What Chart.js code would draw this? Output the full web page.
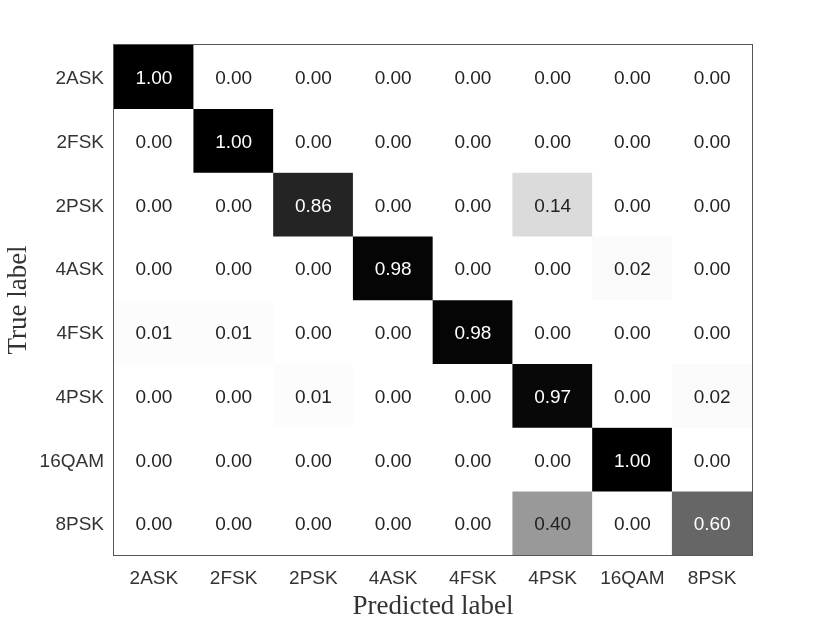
<!DOCTYPE html>
<html>
<head>
<meta charset="utf-8">
<script src="https://cdn.jsdelivr.net/npm/chart.js@4"></script>
<style>
  html, body { margin: 0; padding: 0; background: #fff; }
  #wrap { width: 830px; height: 623px; }
</style>
</head>
<body>
<div id="wrap"><canvas id="cmChart" width="830" height="623"></canvas></div>
<script>
// class labels (rows = true, columns = predicted)
var classes = ["2ASK", "2FSK", "2PSK", "4ASK", "4FSK", "4PSK", "16QAM", "8PSK"];

// normalised confusion matrix, one array per true label
var row2ASK  = [1.00, 0.00, 0.00, 0.00, 0.00, 0.00, 0.00, 0.00];
var row2FSK  = [0.00, 1.00, 0.00, 0.00, 0.00, 0.00, 0.00, 0.00];
var row2PSK  = [0.00, 0.00, 0.86, 0.00, 0.00, 0.14, 0.00, 0.00];
var row4ASK  = [0.00, 0.00, 0.00, 0.98, 0.00, 0.00, 0.02, 0.00];
var row4FSK  = [0.01, 0.01, 0.00, 0.00, 0.98, 0.00, 0.00, 0.00];
var row4PSK  = [0.00, 0.00, 0.01, 0.00, 0.00, 0.97, 0.00, 0.02];
var row16QAM = [0.00, 0.00, 0.00, 0.00, 0.00, 0.00, 1.00, 0.00];
var row8PSK  = [0.00, 0.00, 0.00, 0.00, 0.00, 0.40, 0.00, 0.60];

var matrix = [row2ASK, row2FSK, row2PSK, row4ASK, row4FSK, row4PSK, row16QAM, row8PSK];

function grey(v) {
    var g = Math.round(255 * (1 - v));
    return 'rgb(' + g + ',' + g + ',' + g + ')';
}

// one floating-bar dataset per row, spanning [r, r+1] on the y scale
var datasets = matrix.map(function (row, r) {
    return {
        label: classes[r],
        data: row.map(function () { return [r, r + 1]; }),
        values: row,
        backgroundColor: row.map(grey),
        borderWidth: 0,
        grouped: false,
        barPercentage: 1.0,
        categoryPercentage: 1.0
    };
});

var cellText = {
    id: 'cellText',
    afterDatasetsDraw: function (chart) {
        var ctx = chart.ctx;
        ctx.save();
        ctx.font = '19px "Liberation Sans", Arial, sans-serif';
        ctx.textAlign = 'center';
        ctx.textBaseline = 'middle';
        chart.data.datasets.forEach(function (ds, r) {
            var meta = chart.getDatasetMeta(r);
            meta.data.forEach(function (bar, c) {
                var v = ds.values[c];
                var y = (bar.y + bar.base) / 2;
                ctx.fillStyle = v > 0.5 ? '#ffffff' : '#222222';
                ctx.fillText(v.toFixed(2), bar.x, y + 2);
            });
        });
        var a = chart.chartArea;
        ctx.strokeStyle = '#555555';
        ctx.lineWidth = 1;
        ctx.strokeRect(a.left - 0.5, a.top - 0.5, a.right - a.left + 1, a.bottom - a.top + 1);
        ctx.restore();
    }
};

var CMCHART = document.getElementById('cmChart');

let cmChart = new Chart(CMCHART, {
    type: 'bar',
    data: {
        labels: classes,
        datasets: datasets
    },
    options: {
        responsive: false,
        animation: false,
        layout: { padding: { left: 0, top: 45, right: 78, bottom: 0 } },
        plugins: {
            legend: { display: false },
            tooltip: { enabled: false }
        },
        scales: {
            x: {
                grid: { display: false, drawTicks: false },
                border: { display: false },
                ticks: {
                    color: '#333333',
                    padding: 12,
                    maxRotation: 0,
                    font: { family: '"Liberation Sans", Arial, sans-serif', size: 19 }
                },
                title: {
                    display: true,
                    text: 'Predicted label',
                    color: '#333333',
                    padding: { top: 0, bottom: 0 },
                    font: { family: '"Liberation Serif", "Times New Roman", serif', size: 27 }
                },
                afterFit: function (s) { s.height = 68; }
            },
            y: {
                type: 'linear',
                min: 0,
                max: 8,
                reverse: true,
                grid: { display: false, drawTicks: false },
                border: { display: false },
                afterBuildTicks: function (s) {
                    // label each row near its centre
                    s.ticks = classes.map(function (_, i) { return { value: i + 0.53 }; });
                },
                ticks: {
                    color: '#333333',
                    padding: 10,
                    font: { family: '"Liberation Sans", Arial, sans-serif', size: 19 },
                    callback: function (v) { return classes[Math.floor(v)]; }
                },
                title: {
                    display: true,
                    text: 'True label',
                    color: '#333333',
                    padding: { top: 3, bottom: 0 },
                    font: { family: '"Liberation Serif", "Times New Roman", serif', size: 27 }
                },
                afterFit: function (s) { s.width = 114; }
            }
        }
    },
    plugins: [cellText]
});
</script>
</body>
</html>
